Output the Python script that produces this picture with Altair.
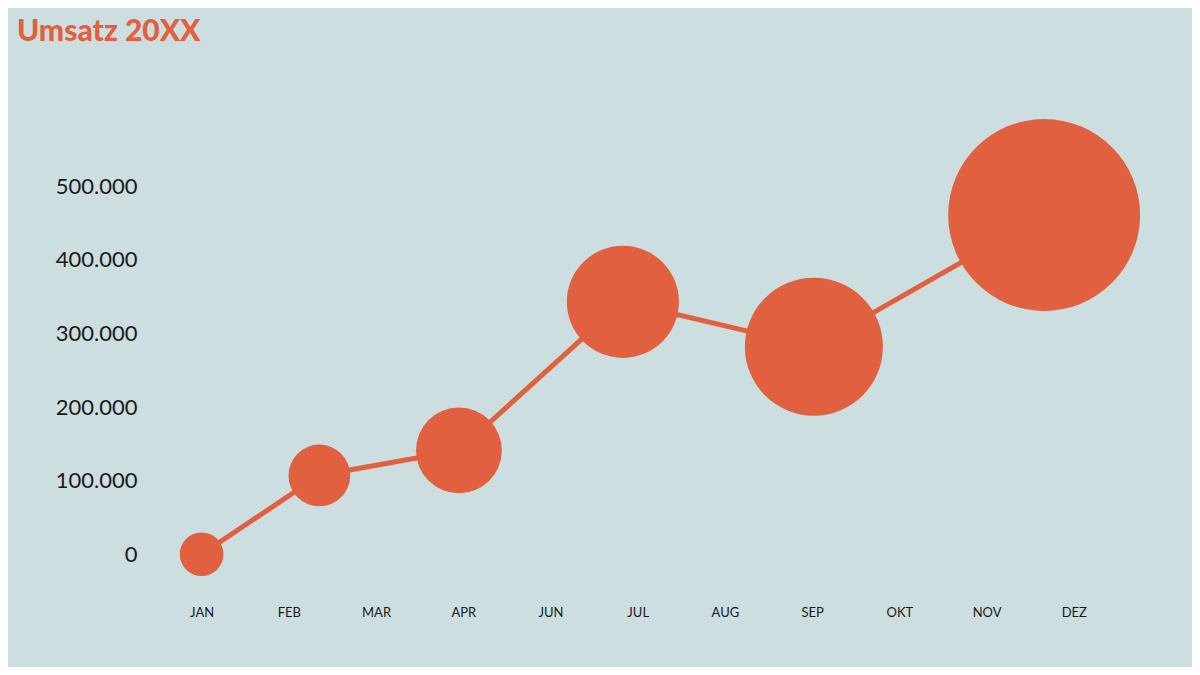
import altair as alt
import pandas as pd

# Axis tick labels (x positions 0..10)
month_labels = ["JAN", "FEB", "MAR", "APR", "JUN", "JUL", "AUG", "SEP", "OKT", "NOV", "DEZ"]

# Bubble data
pos = [0.0, 1.35, 2.95, 4.83, 7.02, 9.66]          # x position on the month axis
umsatz = [0, 107000, 141000, 343000, 282000, 461000]
gewicht = [15, 30, 58, 99, 150, 290]               # bubble size variable

df = pd.DataFrame({"pos": pos, "umsatz": umsatz, "gewicht": gewicht})

ORANGE = "#E06040"
BG = "#CCDEDF"
TEXT = "#1A1A1A"

label_expr = "[" + ",".join(f"'{m}'" for m in month_labels) + "][datum.value]"

x = alt.X("pos:Q",
          scale=alt.Scale(domain=[-0.5, 11], nice=False, zero=False),
          axis=alt.Axis(values=list(range(len(month_labels))), labelExpr=label_expr,
                        title=None, domain=False, ticks=False, grid=False,
                        labelFont="Lato", labelFontSize=13, labelColor=TEXT,
                        labelPadding=15))
y = alt.Y("umsatz:Q",
          scale=alt.Scale(domain=[-50000, 620000], nice=False, zero=False),
          axis=alt.Axis(values=[0, 100000, 200000, 300000, 400000, 500000],
                        labelExpr="datum.value == 0 ? '0' : format(datum.value/1000, 'd') + '.000'",
                        title=None, domain=False, ticks=False, grid=False,
                        labelFont="Lato", labelFontSize=22, labelColor=TEXT,
                        labelPadding=21))

line = alt.Chart(df).mark_line(color=ORANGE, strokeWidth=5).encode(x=x, y=y)
bubbles = alt.Chart(df).mark_circle(color=ORANGE, opacity=1).encode(
    x=x, y=y,
    size=alt.Size("gewicht:Q", scale=alt.Scale(domain=[0, 300], range=[0, 38100]), legend=None),
)

chart = (line + bubbles).properties(
    width=1003,
    height=493,
    autosize=alt.AutoSizeParams(type="none"),
    padding={"left": 150, "top": 90, "right": 31, "bottom": 76},
    background=BG,
    title=alt.TitleParams(text="Umsatz 20XX", anchor="start", frame="group",
                          dx=-141, offset=51, font="Lato", fontSize=30,
                          fontWeight=900, color=ORANGE),
).configure_view(stroke=None)

chart.save("out.html", embed_options={"renderer": "svg", "actions": False})
